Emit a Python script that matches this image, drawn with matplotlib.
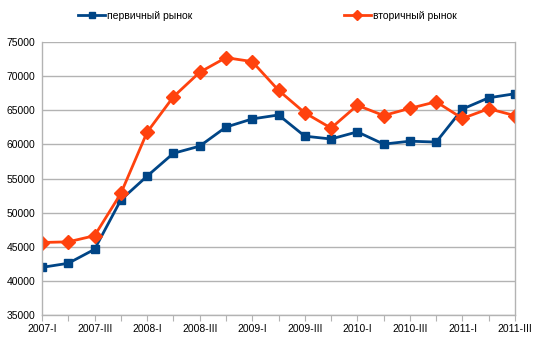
import matplotlib
matplotlib.use("Agg")
import matplotlib.pyplot as plt

plt.rcParams['font.family'] = ['Liberation Sans', 'DejaVu Sans']

# ===== данные =====
quarters = ["2007-I", "2007-II", "2007-III", "2007-IV",
            "2008-I", "2008-II", "2008-III", "2008-IV",
            "2009-I", "2009-II", "2009-III", "2009-IV",
            "2010-I", "2010-II", "2010-III", "2010-IV",
            "2011-I", "2011-II", "2011-III"]

primary = [41950, 42550, 44600, 51850, 55350, 58700, 59750, 62550,
           63750, 64330, 61220, 60800, 61850, 60050, 60480, 60350,
           65200, 66850, 67450]

secondary = [45600, 45700, 46600, 52800, 61800, 67000, 70600, 72750,
             72170, 67950, 64650, 62400, 65750, 64250, 65300, 66270,
             63820, 65250, 64230]

label_primary = "первичный рынок"
label_secondary = "вторичный рынок"

blue = "#004586"
orange = "#ff420e"
grid_c = "#b3b3b3"

fig = plt.figure(figsize=(5.4, 3.46), dpi=100)
ax = fig.add_axes([0.0778, 0.0905, 0.8759, 0.7872])

x = list(range(len(quarters)))
ax.plot(x, primary, color=blue, lw=2, marker="s", ms=5.2,
        label=label_primary)
ax.plot(x, secondary, color=orange, lw=2, marker="D", ms=7,
        label=label_secondary)

ax.set_xlim(0, len(quarters) - 1)
ax.set_ylim(35000, 75000)
ax.set_yticks(range(35000, 75001, 5000))
ax.set_xticks(x)
ax.set_xticklabels([q if i % 2 == 0 else "" for i, q in enumerate(quarters)])

ax.grid(axis="y", color=grid_c, lw=1)
ax.set_axisbelow(True)
for s in ["left", "right", "bottom"]:
    ax.spines[s].set_color(grid_c)
    ax.spines[s].set_linewidth(1)
ax.spines["top"].set_visible(False)

ax.tick_params(axis="y", length=0, labelsize=7.5, pad=5, colors="#000000")
ax.tick_params(axis="x", length=4, color=grid_c, labelsize=7.5, pad=3,
               labelcolor="#000000")

# легенда сверху, маркеры поменьше
fig.legend(loc="upper center", bbox_to_anchor=(0.495, 0.995), ncol=2,
           frameon=False, fontsize=7.5, columnspacing=14.5,
           handlelength=2.6, handletextpad=0.2, markerscale=0.7)

fig.savefig("out.png", dpi=100)
